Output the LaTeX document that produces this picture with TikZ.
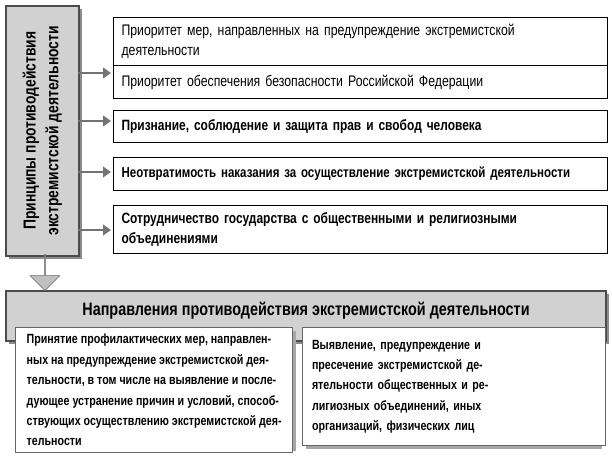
\documentclass[tikz,border=0pt]{standalone}
\usepackage{fontspec}
\setmainfont{Liberation Sans}
\newfontfamily\cond[FakeStretch=0.8]{Liberation Sans}
\usetikzlibrary{arrows.meta,shapes.arrows}
\tikzset{
  pbox/.style={draw=black, fill=white, line width=0.8pt, anchor=north west, minimum width=491*0.75pt, text width=478*0.75pt, align=left, inner xsep=6pt, font=\cond\fontsize{11.5}{15}\selectfont},
  pboxb/.style={pbox, font=\cond\bfseries\fontsize{11.2}{15}\selectfont},
  gbox/.style={draw=black!70, fill=black!18, line width=1.2pt},
  garrow/.style={draw=black!55, line width=2.2pt, -{Triangle[length=6pt,width=8pt]}},
  wbox/.style={draw=black!60, fill=white, line width=1pt, anchor=north west, align=left, inner xsep=7pt, inner ysep=5pt, font=\cond\bfseries\fontsize{10}{15.3}\selectfont},
}
\begin{document}
\begin{tikzpicture}[x=0.75pt,y=-0.75pt]
\useasboundingbox (0,0) rectangle (612,459);
% left vertical box
\fill[black!45] (9,9) rectangle (82,259);
\node[gbox, anchor=north west, minimum width=73*0.75pt, minimum height=250*0.75pt, inner sep=0pt] (lv) at (5,5) {};
\node[rotate=90, align=center, font=\cond\bfseries\fontsize{13}{17}\selectfont] (lvt) at (lv.center) {Принципы противодействия\\экстремистской деятельности};
% right boxes
\node[pbox, minimum height=48*0.75pt] (b1) at (113,17) {Приоритет мер, направленных на предупреждение экстремистской\\деятельности};
\node[pbox, minimum height=33*0.75pt] (b2) at (113,65) {Приоритет обеспечения безопасности Российской Федерации};
\node[pboxb, minimum height=32*0.75pt] (b3) at (113,110) {Признание, соблюдение и защита прав и свобод человека};
\node[pbox, minimum height=33*0.75pt, font=\cond\bfseries\fontsize{10.8}{15}\selectfont] (b4) at (113,157) {Неотвратимость наказания за осуществление экстремистской деятельности};
\node[pboxb, minimum height=48*0.75pt] (b5) at (113,205) {Сотрудничество государства с общественными и религиозными\\объединениями};
% arrows
\coordinate (a1) at (78,73); \coordinate (e1) at (111,73);
\coordinate (a2) at (78,121); \coordinate (e2) at (111,121);
\coordinate (a3) at (78,172); \coordinate (e3) at (111,172);
\coordinate (a4) at (78,230); \coordinate (e4) at (111,230);
\draw[garrow] (a1) -- (e1);
\draw[garrow] (a2) -- (e2);
\draw[garrow] (a3) -- (e3);
\draw[garrow] (a4) -- (e4);
% bottom gray box
\fill[black!45] (9,294) rectangle (609,344);
\node[gbox, anchor=north west, minimum width=600*0.75pt, minimum height=50*0.75pt, inner sep=0pt] (bg) at (5,290) {};
\node[font=\cond\bfseries\fontsize{13.5}{16}\selectfont] (bgt) at (306,311) {Направления противодействия экстремистской деятельности};
% down arrow
\node[single arrow, shape border rotate=270, draw=black!60, fill=black!25, minimum width=30*0.75pt, single arrow head extend=4pt, minimum height=36*0.75pt, inner sep=0pt, anchor=tip] (da) at (45,291) {};
% lower boxes
\fill[black!35] (19,331) rectangle (296,451);
\node[wbox, minimum width=277*0.75pt, minimum height=120*0.75pt] (l1) at (15,327) {Принятие профилактических мер, направлен-\\ных на предупреждение экстремистской дея-\\тельности, в том числе на выявление и после-\\дующее устранение причин и условий, способ-\\ствующих осуществлению экстремистской дея-\\тельности};
\fill[black!35] (306,331) rectangle (602,449);
\node[wbox, minimum width=296*0.75pt, minimum height=118*0.75pt, text width=284*0.75pt] (l2) at (302,327) {Выявление, предупреждение и\\пресечение экстремистской де-\\ятельности общественных и ре-\\лигиозных объединений, иных\\организаций, физических лиц};
\end{tikzpicture}
\end{document}
